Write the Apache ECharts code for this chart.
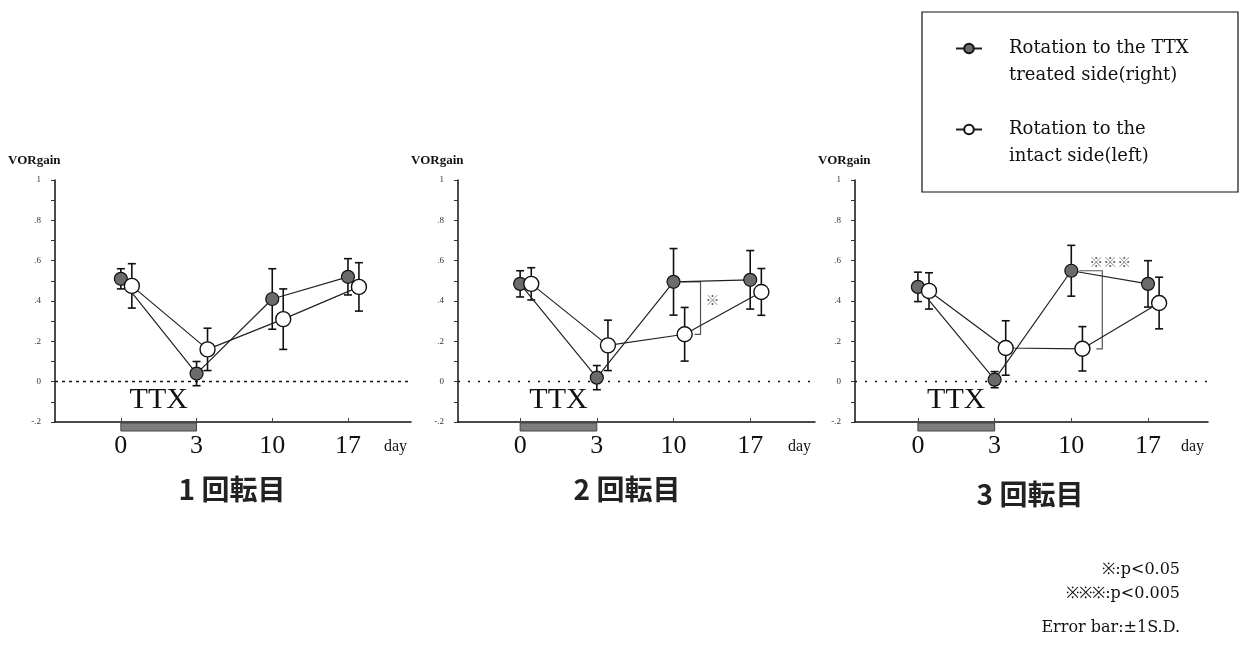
<!DOCTYPE html>
<html><head><meta charset="utf-8">
<script src="https://cdn.jsdelivr.net/npm/echarts@6/dist/echarts.min.js"></script>
<style>html,body{margin:0;padding:0;background:#fff}#c{width:1240px;height:655px}</style>
</head><body><div id="c"></div>
<script>
// ---------- data ----------
const days = ['0', '3', '10', '17'];
const yTickLabels = ['-.2', '0', '.2', '.4', '.6', '.8', '1'];
const panelTitles = ['1 回転目', '2 回転目', '3 回転目'];
const legendTexts = ['Rotation to the TTX\ntreated side(right)', 'Rotation to the\nintact side(left)'];

// panel 1 (1回転目)
const p1Treated   = [0.51, 0.04, 0.41, 0.52];
const p1TreatedSD = [0.05, 0.06, 0.15, 0.09];
const p1Intact    = [0.475, 0.16, 0.31, 0.47];
const p1IntactSD  = [0.11, 0.105, 0.15, 0.12];
// panel 2 (2回転目)
const p2Treated   = [0.485, 0.02, 0.495, 0.505];
const p2TreatedSD = [0.065, 0.06, 0.165, 0.145];
const p2Intact    = [0.485, 0.18, 0.235, 0.445];
const p2IntactSD  = [0.08, 0.125, 0.133, 0.116];
// panel 3 (3回転目)
const p3Treated   = [0.47, 0.01, 0.55, 0.485];
const p3TreatedSD = [0.073, 0.04, 0.126, 0.115];
const p3Intact    = [0.45, 0.167, 0.163, 0.39];
const p3IntactSD  = [0.09, 0.135, 0.11, 0.128];

const sigMarks = ['', '※', '※※※'];      // significance at day 10
const sigDay = 2;                        // index of day 10
const ttxPeriod = [0, 1];                // from day 0 to day 3 (indices)
const footnotes = ['※:p<0.05', '※※※:p<0.005', 'Error bar:±1S.D.'];

// ---------- layout ----------
const panels = [
  { treated: p1Treated, tSD: p1TreatedSD, intact: p1Intact, iSD: p1IntactSD, left: 55, width: 356, min: -0.87, dash: [3, 4] },
  { treated: p2Treated, tSD: p2TreatedSD, intact: p2Intact, iSD: p2IntactSD, left: 458, width: 357, min: -0.81, dash: [2, 8] },
  { treated: p3Treated, tSD: p3TreatedSD, intact: p3Intact, iSD: p3IntactSD, left: 855, width: 353, min: -0.82, dash: [2, 8] }
];
const unitPx = [75.7, 76.7, 76.7];
const OFFSET = 0.145;
const serif = 'Liberation Serif';
const wideSerif = 'DejaVu Serif';

const grids = [], xAxes = [], yAxes = [], series = [];

function errRender(params, api) {
  const x = api.value(0), lo = api.value(1), hi = api.value(2);
  const a = api.coord([x, hi]), b = api.coord([x, lo]);
  const w = 4, st = { stroke: '#111', lineWidth: 1.6 };
  return { type: 'group', children: [
    { type: 'line', shape: { x1: a[0], y1: a[1], x2: b[0], y2: b[1] }, style: st },
    { type: 'line', shape: { x1: a[0] - w, y1: a[1], x2: a[0] + w, y2: a[1] }, style: st },
    { type: 'line', shape: { x1: b[0] - w, y1: b[1], x2: b[0] + w, y2: b[1] }, style: st }
  ]};
}

panels.forEach((p, i) => {
  grids.push({ left: p.left, top: 180, width: p.width, height: 242 });
  xAxes.push({
    gridIndex: i, type: 'value', min: p.min, max: p.min + p.width / unitPx[i],
    axisLine: { show: true, onZero: false, lineStyle: { color: '#111', width: 1.5 } },
    axisTick: { show: true, inside: true, length: 4, customValues: [0, 1, 2, 3], lineStyle: { color: '#444' } },
    axisLabel: { customValues: [0, 1, 2, 3], formatter: v => days[Math.round(v)], fontFamily: serif, fontSize: 26, color: '#111', margin: 11 },
    splitLine: { show: false }
  });
  yAxes.push({
    gridIndex: i, type: 'value', min: -0.2, max: 1, interval: 0.2,
    axisLine: { show: true, onZero: false, lineStyle: { color: '#111', width: 1.5 } },
    axisTick: { show: true, length: 4, lineStyle: { color: '#333' } },
    minorTick: { show: true, splitNumber: 2, length: 4, lineStyle: { color: '#333' } },
    axisLabel: { formatter: v => yTickLabels[Math.round((v + 0.2) / 0.2)], fontFamily: serif, fontSize: 9, color: '#333', margin: 14 },
    splitLine: { show: false }
  });

  // TTX bar + label (below the x axis)
  series.push({
    type: 'custom', xAxisIndex: i, yAxisIndex: i, silent: true, clip: false, z: 1,
    data: [[ttxPeriod[0], ttxPeriod[1]]],
    encode: { x: [0, 1] },
    renderItem: (params, api) => {
      const a = api.coord([api.value(0), -0.2]), b = api.coord([api.value(1), -0.2]);
      const mid = api.coord([(api.value(0) + api.value(1)) / 2, -0.09]);
      return { type: 'group', children: [
        { type: 'rect', shape: { x: a[0], y: a[1] + 1, width: b[0] - a[0], height: 8 }, style: { fill: '#7d7d7d', stroke: '#444', lineWidth: 1 } },
        { type: 'text', style: { text: 'TTX', x: mid[0], y: mid[1], align: 'center', verticalAlign: 'middle', font: '30px "Liberation Serif"', fill: '#111' } }
      ]};
    }
  });

  // error bars
  series.push({
    type: 'custom', xAxisIndex: i, yAxisIndex: i, silent: true, z: 2,
    data: p.treated.map((v, k) => [k, v - p.tSD[k], v + p.tSD[k]]),
    encode: { x: 0, y: [1, 2] }, renderItem: errRender
  });
  series.push({
    type: 'custom', xAxisIndex: i, yAxisIndex: i, silent: true, z: 2,
    data: p.intact.map((v, k) => [k + OFFSET, v - p.iSD[k], v + p.iSD[k]]),
    encode: { x: 0, y: [1, 2] }, renderItem: errRender
  });

  // significance bracket
  if (sigMarks[i]) {
    const mode = i === 1 ? 'right' : 'top';
    series.push({
      type: 'custom', xAxisIndex: i, yAxisIndex: i, silent: true, z: 3,
      data: [[sigDay, p.treated[sigDay], p.intact[sigDay]]],
      encode: { x: 0, y: [1, 2] },
      renderItem: (params, api) => {
        const t = api.coord([api.value(0), api.value(1)]);
        const b = api.coord([api.value(0), api.value(2)]);
        const xs = t[0] + 8, xv = t[0] + (i === 1 ? 27 : 31), xe = xv - 6;
        const st = { stroke: '#555', lineWidth: 1.2 };
        const lbl = mode === 'right'
          ? { x: xv + 12, y: (t[1] + b[1]) / 2 - 8, align: 'center' }
          : { x: xv + 8, y: t[1] - 9, align: 'center' };
        return { type: 'group', children: [
          { type: 'polyline', shape: { points: [[xs, t[1]], [xv, t[1]], [xv, b[1]], [xe, b[1]]] }, style: { ...st, fill: null } },
          { type: 'text', style: { text: sigMarks[i], x: lbl.x, y: lbl.y, align: lbl.align, verticalAlign: 'middle', font: '14px "Noto Sans CJK JP"', fill: '#666' } }
        ]};
      }
    });
  }

  // treated side (filled)
  series.push({
    name: 'treated', type: 'line', xAxisIndex: i, yAxisIndex: i, z: 5,
    data: p.treated.map((v, k) => [k, v]),
    symbol: 'circle', symbolSize: 13,
    lineStyle: { color: '#222', width: 1.2 },
    itemStyle: { color: '#6b6b6b', borderColor: '#111', borderWidth: 1.2 },
    animation: false,
    markLine: {
      silent: true, symbol: 'none', label: { show: false },
      lineStyle: { color: '#111', type: p.dash, width: 1.3 },
      data: [{ yAxis: 0 }]
    }
  });
  // intact side (open)
  series.push({
    name: 'intact', type: 'line', xAxisIndex: i, yAxisIndex: i, z: 6,
    data: p.intact.map((v, k) => [k + OFFSET, v]),
    symbol: 'circle', symbolSize: 15,
    lineStyle: { color: '#222', width: 1.2 },
    itemStyle: { color: '#fff', borderColor: '#111', borderWidth: 1.4 },
    animation: false
  });
});

const graphics = [];
panels.forEach((p, i) => {
  graphics.push({ type: 'text', left: p.left - (i === 2 ? 37 : 47), top: 154, style: { text: 'VORgain', font: 'bold 13px "Liberation Serif"', fill: '#111' } });
  graphics.push({ type: 'text', left: p.left + p.width - 27, top: 439, style: { text: 'day', font: '16px "Liberation Serif"', fill: '#111' } });
});
const titleCenters = [232, 627, 1030];
const titleTops = [475, 475, 480];
panelTitles.forEach((t, i) => {
  graphics.push({ type: 'text', x: titleCenters[i], y: titleTops[i], style: { text: t, font: 'bold 28px "Noto Sans CJK JP"', fill: '#222', align: 'center' } });
});
graphics.push({ type: 'rect', shape: { x: 922, y: 12, width: 316, height: 180 }, style: { fill: '#fff', stroke: '#111', lineWidth: 1.2 }, z: 0 });
footnotes.forEach((t, k) => {
  graphics.push({ type: 'text', x: 1180, y: [562, 586, 620][k], style: { text: t, font: '16px "DejaVu Serif"', fill: '#111', align: 'right' } });
});

const chart = echarts.init(document.getElementById('c'), null, { renderer: 'canvas' });
chart.setOption({
  animation: false,
  backgroundColor: '#fff',
  grid: grids, xAxis: xAxes, yAxis: yAxes, series: series,
  graphic: graphics,
  legend: {
    orient: 'vertical', left: 922, top: 8, padding: [0, 0, 0, 33],
    itemGap: 0, itemWidth: 26, itemHeight: 12, selectedMode: false,
    data: ['treated', 'intact'],
    // leading blank line keeps the icon level with the first text line
    formatter: n => '\n' + (n === 'treated' ? legendTexts[0] : legendTexts[1]),
    textStyle: { fontFamily: wideSerif, fontSize: 18, lineHeight: 27, color: '#111', padding: [0, 0, 0, 22] },
    z: 10
  }
});
</script></body></html>
